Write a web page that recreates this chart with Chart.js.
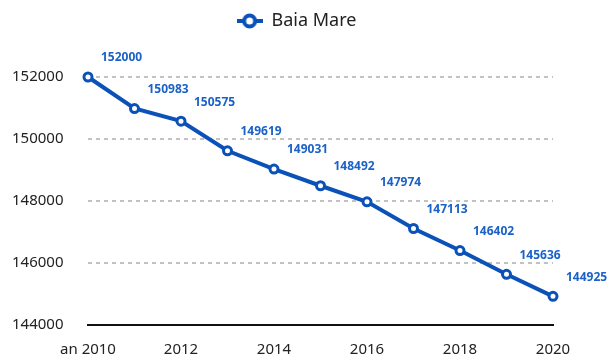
<!DOCTYPE html>
<html>
<head>
<meta charset="utf-8">
<script src="https://cdn.jsdelivr.net/npm/chart.js@4"></script>
<style>
  html, body { margin: 0; padding: 0; background: #fff; }
  canvas { display: block; }
</style>
</head>
<body>
<canvas id="popChart" width="614" height="356"></canvas>
<script>
const years = ['2010','2011','2012','2013','2014','2015','2016','2017','2018','2019','2020'];
const population = [152000, 150983, 150575, 149619, 149031, 148492, 147974, 147113, 146402, 145636, 144925];
const seriesName = 'Baia Mare';
const yMin = 144000, yMax = 152000, yStep = 2000;

const BLUE = '#0b52b8';
const LABEL_BLUE = '#1a62c8';
const FONT = "'Noto Sans', sans-serif";

// legend icon: short line with a hollow marker
const legendIcon = document.createElement('canvas');
legendIcon.width = 26;
legendIcon.height = 18;
(function () {
  const c = legendIcon.getContext('2d');
  c.strokeStyle = BLUE;
  c.lineWidth = 4;
  c.beginPath();
  c.moveTo(0, 9); c.lineTo(26, 9);
  c.stroke();
  c.fillStyle = '#fff';
  c.beginPath();
  c.arc(13, 9, 5.5, 0, Math.PI * 2);
  c.fill();
  c.stroke();
})();

// value labels above-right of each point
const valueLabels = {
  id: 'valueLabels',
  afterDatasetsDraw(chart) {
    const ctx = chart.ctx;
    const meta = chart.getDatasetMeta(0);
    ctx.save();
    ctx.font = "bold 12px " + FONT;
    ctx.fillStyle = LABEL_BLUE;
    ctx.textAlign = 'left';
    ctx.textBaseline = 'middle';
    meta.data.forEach((pt, i) => {
      ctx.fillText(String(population[i]), pt.x + 13, pt.y - 19);
    });
    ctx.restore();
  }
};

// extra room between legend and plot, legend nudged right
const legendGap = {
  id: 'legendGap',
  beforeInit(chart) {
    const fit = chart.legend.fit;
    chart.legend.fit = function () {
      fit.call(this);
      this.height += 37;
    };
  },
  afterLayout(chart) {
    chart.legend.left += 14;
    chart.legend.right += 14;
  }
};

new Chart(document.getElementById('popChart'), {
  type: 'line',
  data: {
    labels: years,
    datasets: [{
      label: seriesName,
      data: population,
      borderColor: BLUE,
      backgroundColor: '#ffffff',
      borderWidth: 4,
      pointRadius: 4,
      pointBorderWidth: 3,
      pointBorderColor: BLUE,
      pointBackgroundColor: '#ffffff',
      pointStyle: 'circle',
      clip: false,
      tension: 0
    }]
  },
  options: {
    responsive: false,
    animation: false,
    layout: { padding: { left: 12, right: 61, top: 4, bottom: 0 } },
    plugins: {
      tooltip: { enabled: false },
      legend: {
        position: 'top',
        labels: {
          usePointStyle: true,
          pointStyleWidth: 26,
          boxHeight: 18,
          color: '#222',
          font: { family: FONT, size: 18 },
          padding: 8,
          generateLabels: chart => [{
            text: seriesName,
            pointStyle: legendIcon,
            fontColor: '#222',
            datasetIndex: 0
          }]
        }
      }
    },
    scales: {
      x: {
        grid: { display: false, drawTicks: false },
        border: { display: true, color: '#111', width: 2 },
        afterFit(scale) { scale.height = 31; },
        ticks: {
          autoSkip: false,
          maxRotation: 0,
          padding: 16,
          color: '#222',
          font: { family: FONT, size: 15 },
          callback: (v, i) => i % 2 ? '' : (i === 0 ? 'an ' + years[i] : years[i])
        }
      },
      y: {
        min: yMin,
        max: yMax,
        afterFit(scale) { scale.width = 76; },
        grid: {
          color: '#c2c2c2',
          lineWidth: 2,
          drawTicks: false
        },
        border: { display: false, dash: [4, 4] },
        ticks: {
          stepSize: yStep,
          padding: 0,
          crossAlign: 'far',
          color: '#222',
          font: { family: FONT, size: 15 },
          callback: v => String(v)
        }
      }
    }
  },
  plugins: [valueLabels, legendGap]
});
</script>
</body>
</html>
